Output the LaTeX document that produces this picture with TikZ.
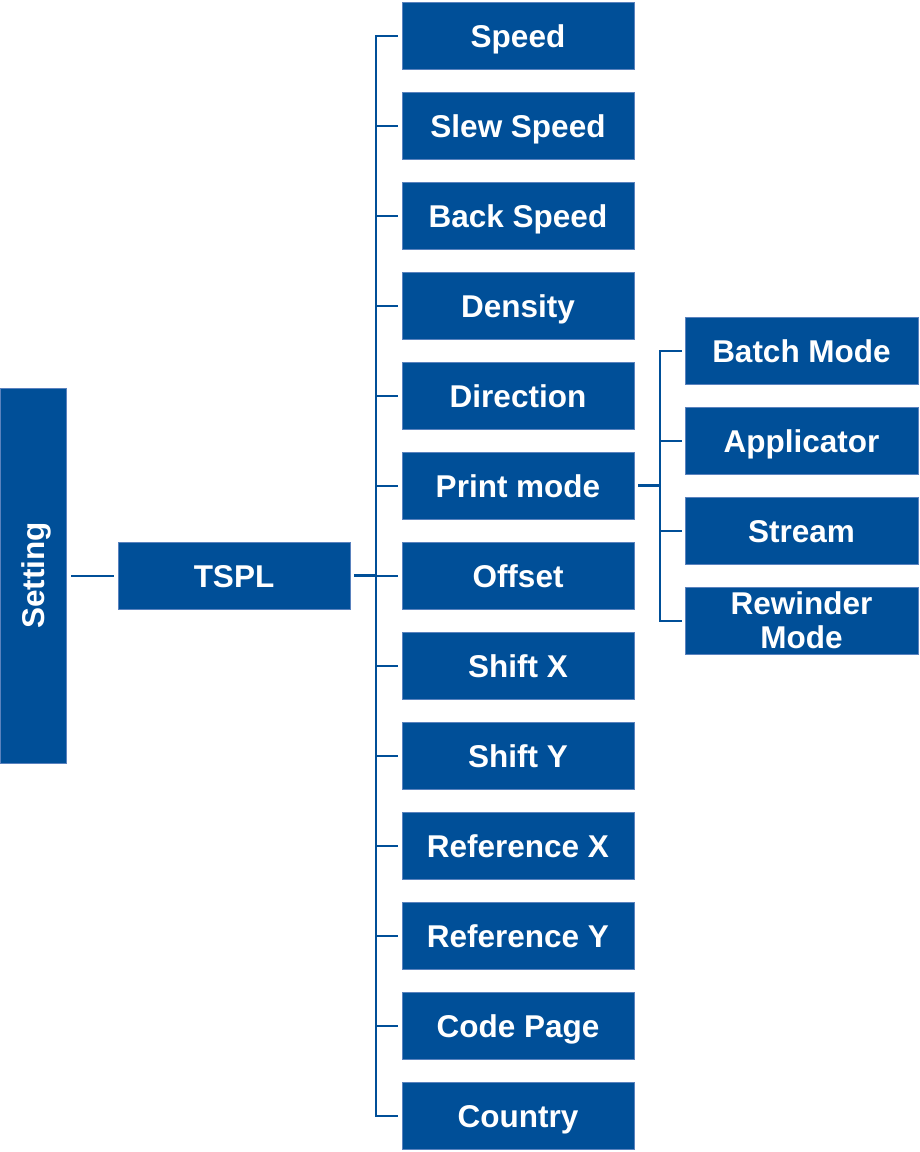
\documentclass[tikz,border=0pt]{standalone}
\usepackage{fontspec}
\setmainfont{Liberation Sans}
\definecolor{boxblue}{RGB}{0,79,152}
\definecolor{edgeblue}{RGB}{90,130,190}
\begin{document}
\begin{tikzpicture}[x=1pt,y=-1pt,
  box/.style={fill=boxblue,draw=edgeblue,line width=0.6pt,text=white,inner sep=0pt,
    minimum width=232pt,minimum height=67pt,align=center,
    text height=23pt,text depth=0pt,
    font=\fontsize{31.5}{34}\selectfont\bfseries},
  link/.style={draw=boxblue,line width=2pt},
  boldlink/.style={draw=boxblue,line width=3pt}]
\useasboundingbox (0,0) rectangle (920,1152);
\node[box,minimum width=66pt,minimum height=375pt] (setting) at (33,575.5) {};
\node[rotate=90,text=white,inner sep=0pt,text height=23pt,text depth=0pt,font=\fontsize{31.5}{34}\selectfont\bfseries] (settinglbl) at (33,575.5) {Setting};
\node[box] (tspl) at (234,575.5) {TSPL};
\foreach \n/\t [count=\i from 0] in {speed/Speed,slew/Slew Speed,back/Back Speed,density/Density,direction/Direction,printmode/Print mode,offset/Offset,shiftx/Shift X,shifty/Shift Y,refx/Reference X,refy/Reference Y,codepage/Code Page,country/Country}{
  \node[box] (\n) at (518,35.5+90*\i) {\t};
}
\foreach \n/\t [count=\i from 0] in {batch/Batch Mode,applicator/Applicator,stream/Stream}{
  \node[box,minimum width=233pt] (\n) at (801.5,350.5+90*\i) {\t};
}
\node[box,minimum width=233pt,text height=,text depth=] (rewinder) at (801.5,620.5) {Rewinder\\Mode};
\coordinate (trunk) at (376,0);
\coordinate (subtrunk) at (660,0);
\draw[link,shorten <=5pt,shorten >=4pt] (setting.east) -- (tspl.west);
\draw[boldlink,shorten <=4pt] (tspl.east) -- (trunk |- tspl.east);
\draw[link,line cap=rect] (trunk |- speed.west) -- (trunk |- country.west);
\foreach \n in {speed,slew,back,density,direction,printmode,offset,shiftx,shifty,refx,refy,codepage,country}{
  \draw[link,shorten >=4pt] (trunk |- \n.west) -- (\n.west);
}
\draw[boldlink,shorten <=4pt] (printmode.east) -- (subtrunk |- printmode.east);
\draw[link,line cap=rect] (subtrunk |- batch.west) -- (subtrunk |- rewinder.west);
\foreach \n in {batch,applicator,stream,rewinder}{
  \draw[link,shorten >=3pt] (subtrunk |- \n.west) -- (\n.west);
}
\end{tikzpicture}
\end{document}
